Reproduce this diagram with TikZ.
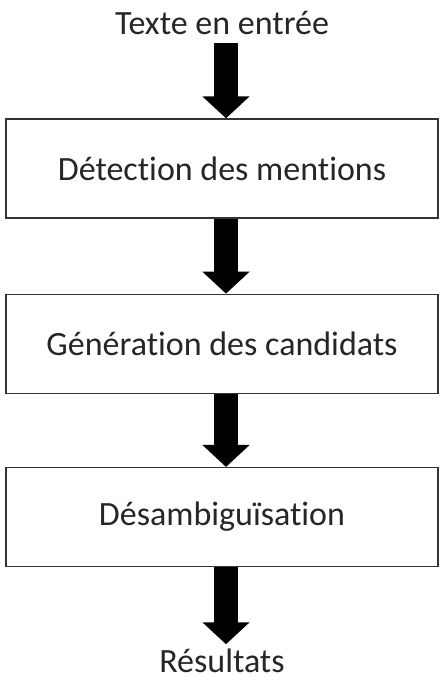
\documentclass[tikz,border=0pt]{standalone}
\usepackage{fontspec}
\setmainfont{Carlito}[Ligatures=CommonOff]
\usetikzlibrary{positioning,arrows.meta}

\begin{document}
\begin{tikzpicture}[x=1pt, y=1pt, node distance=75pt]
  \tikzstyle{box}=[rectangle, draw=black!80, line width=1.3pt, align=center, minimum height=99pt, minimum width=432pt, font=\fontsize{34}{40}\selectfont, text=black!85]
  \tikzstyle{txt}=[inner xsep=0pt, inner ysep=8pt, font=\fontsize{34}{40}\selectfont, text=black!85]
  \tikzstyle{bigarrow}=[line width=24pt, -{Triangle[length=22pt, width=46pt]}]

  \useasboundingbox (0,0) rectangle (444,-681);

  \node[box] (det) at (222,-168.5) {Détection des mentions};
  \node[box, below=of det] (gen) {Génération des candidats};
  \node[box, below=73pt of gen] (des) {Désambiguïsation};
  \node[txt, above=75pt of det] (in) {Texte en entrée};
  \node[txt, inner ysep=4pt, below=77pt of des] (res) {Résultats};

  \draw[bigarrow] ([xshift=4pt]in.south) -- ([xshift=4pt]det.north);
  \draw[bigarrow] ([xshift=4pt]det.south) -- ([xshift=4pt]gen.north);
  \draw[bigarrow] ([xshift=4pt]gen.south) -- ([xshift=4pt]des.north);
  \draw[bigarrow] ([xshift=4pt]des.south) -- ([xshift=4pt]res.north);
\end{tikzpicture}
\end{document}
